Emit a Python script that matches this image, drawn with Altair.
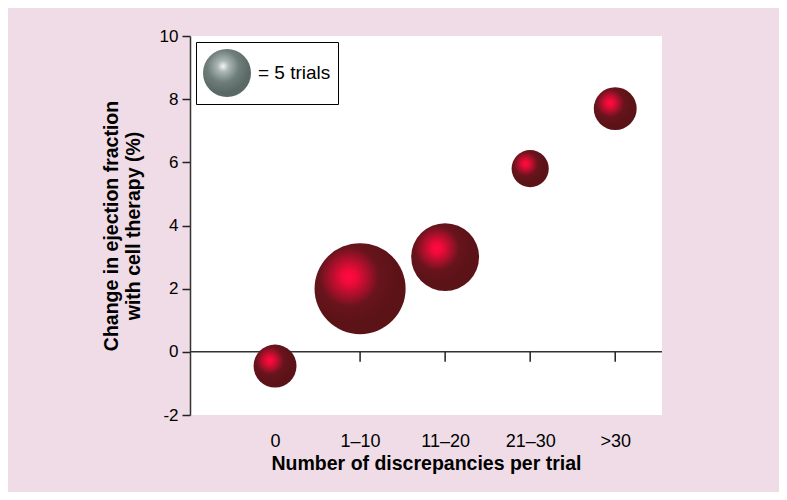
import altair as alt
import pandas as pd

# ---- data ----
categories = ["0", "1–10", "11–20", "21–30", ">30"]
change_ef = [-0.45, 2.0, 3.0, 5.8, 7.7]      # change in ejection fraction (%)
trials = [4, 18, 10, 3, 4]                    # number of trials (bubble area)
y_ticks = [-2, 0, 2, 4, 6, 8, 10]
legend_trials = [5]
zero_level = [0]

df = pd.DataFrame({
    "pos": list(range(1, len(categories) + 1)),
    "category": categories,
    "change": change_ef,
    "trials": trials,
})
legend_df = pd.DataFrame({"trials": legend_trials})
zero_df = pd.DataFrame({"level": zero_level})

# ---- layout ----
W, H = 472, 379
Y_MIN, Y_MAX = -2, 10
PAD_L, PAD_T = 182, 28
TOTAL_W, TOTAL_H = 771, 484

FONT = "Liberation Sans"
label_expr = "[" + ",".join("'" + c + "'" for c in categories) + "][datum.value - 1]"

bubble_fill = {
    "gradient": "radial",
    "x1": 0.38, "y1": 0.37, "r1": 0.0,
    "x2": 0.38, "y2": 0.37, "r2": 0.5,
    "stops": [
        {"offset": 0.0, "color": "#ff0a45"},
        {"offset": 0.15, "color": "#f20a3a"},
        {"offset": 0.42, "color": "#a8102b"},
        {"offset": 0.65, "color": "#68141c"},
        {"offset": 1.0, "color": "#5c1318"},
    ],
}

grey_fill = {
    "gradient": "radial",
    "x1": 0.42, "y1": 0.36, "r1": 0.0,
    "x2": 0.42, "y2": 0.36, "r2": 0.55,
    "stops": [
        {"offset": 0.0, "color": "#f2f6f5"},
        {"offset": 0.22, "color": "#a9b6b4"},
        {"offset": 0.6, "color": "#6f7d7b"},
        {"offset": 1.0, "color": "#5a6866"},
    ],
}

x_scale = alt.Scale(domain=[0, 5.55], nice=False, zero=False)
y_scale = alt.Scale(domain=[Y_MIN, Y_MAX], nice=False)
size_domain = [0, 20]
size_range = [0, 9216]

x_axis = alt.Axis(
    values=df["pos"].tolist(),
    labelExpr=label_expr,
    grid=False,
    domain=False,
    ticks=False,
    labelFont=FONT,
    labelFontSize=18,
    labelColor="black",
    labelPadding=17,
    title="Number of discrepancies per trial",
    titleFont=FONT,
    titleFontSize=19.5,
    titleFontWeight="bold",
    titleColor="black",
    titlePadding=4,
)

y_axis = alt.Axis(
    values=y_ticks,
    labelExpr="'' + datum.value",
    grid=False,
    tickSize=8,
    tickWidth=1.5,
    tickColor="#222222",
    domainColor="#333333",
    domainWidth=1.5,
    labelFont=FONT,
    labelFontSize=17,
    labelColor="black",
    labelPadding=4,
    title=["Change in ejection fraction", "with cell therapy (%)"],
    titleFont=FONT,
    titleFontSize=19.5,
    titleFontWeight="bold",
    titleColor="black",
    titlePadding=16,
)

# zero reference line across the plot
zero_line = alt.Chart(zero_df).mark_rule(color="#333333", strokeWidth=1.5).encode(
    y=alt.Y("level:Q", scale=y_scale, axis=y_axis)
)

# category tick marks hanging from the zero line
cat_ticks = alt.Chart(df).mark_rule(color="#222222", strokeWidth=1.5, y2Offset=10).encode(
    x=alt.X("pos:Q", scale=x_scale, axis=x_axis),
    y=alt.datum(0),
    y2=alt.datum(0),
)

bubbles = alt.Chart(df).mark_circle(fill=bubble_fill, opacity=1).encode(
    x=alt.X("pos:Q", scale=x_scale, axis=x_axis),
    y=alt.Y("change:Q", scale=y_scale, axis=y_axis),
    size=alt.Size("trials:Q",
                  scale=alt.Scale(domain=size_domain, range=size_range, zero=True),
                  legend=None),
)

# legend-only layer (no marks drawn) giving the grey "= 5 trials" key
legend_layer = (
    alt.Chart(legend_df)
    .transform_filter("false")
    .mark_circle(fill=grey_fill, opacity=1)
    .encode(
        x=alt.datum(1),
        y=alt.datum(0),
        size=alt.Size(
            "trials:Q",
            scale=alt.Scale(domain=size_domain, range=size_range, zero=True),
            legend=alt.Legend(
                values=legend_trials,
                title=None,
                orient="top-left",
                offset=6,
                padding=7,
                strokeColor="black",
                fillColor="white",
                labelExpr="'= ' + datum.value + ' trials'",
                labelFont=FONT,
                labelFontSize=19,
                labelColor="black",
                labelOffset=7,
                symbolStrokeWidth=0,
                symbolOpacity=1,
            ),
        ),
    )
)

chart = (
    alt.layer(zero_line, cat_ticks, bubbles, legend_layer)
    .resolve_scale(size="independent")
    .resolve_legend(size="independent")
    .properties(
        width=W,
        height=H,
        autosize=alt.AutoSizeParams(type="none"),
        padding={"left": PAD_L, "top": PAD_T,
                 "right": TOTAL_W - PAD_L - W, "bottom": TOTAL_H - PAD_T - H},
        background="#efdce6",
    )
    .configure_view(fill="white", strokeWidth=0)
)

chart.save("out.html", embed_options={"renderer": "svg", "actions": False})
